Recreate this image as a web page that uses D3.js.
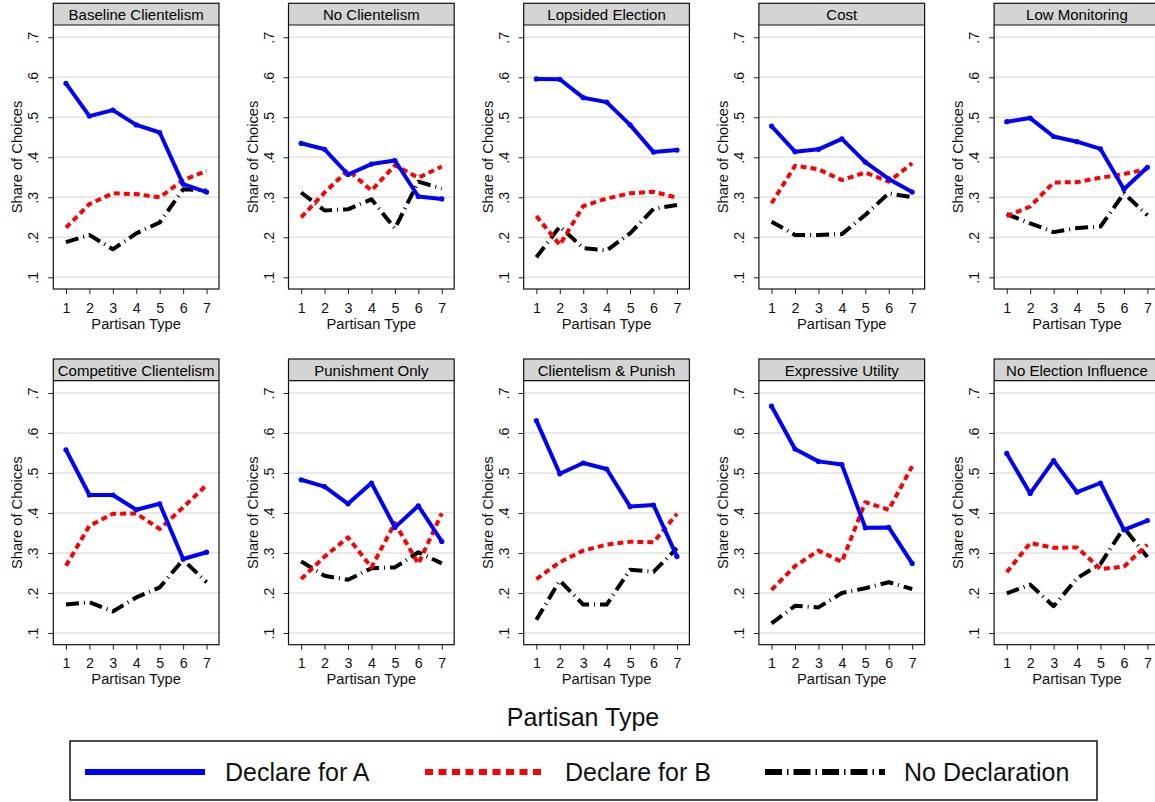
<!DOCTYPE html>
<html><head><meta charset="utf-8">
<script src="https://cdn.jsdelivr.net/npm/d3@7/dist/d3.min.js"></script>
<style>
html,body{margin:0;padding:0;background:#fff;}
svg{display:block;font-family:"Liberation Sans",Arial,Helvetica,sans-serif;}
</style></head>
<body><svg id="c" width="1155" height="802"></svg>
<script>
const panelTitles = ["Baseline Clientelism","No Clientelism","Lopsided Election","Cost","Low Monitoring",
  "Competitive Clientelism","Punishment Only","Clientelism & Punish","Expressive Utility","No Election Influence"];
const partisanTypes = [1,2,3,4,5,6,7];
const yTickValues = [0.1,0.2,0.3,0.4,0.5,0.6,0.7];
const yTickLabels = [".1",".2",".3",".4",".5",".6",".7"];
const seriesNames = ["Declare for A","Declare for B","No Declaration"];

const declareA = [
  [0.585,0.503,0.518,0.481,0.462,0.333,0.313],
  [0.435,0.420,0.357,0.383,0.392,0.302,0.296],
  [0.596,0.595,0.549,0.538,0.481,0.413,0.418],
  [0.478,0.414,0.420,0.446,0.388,0.346,0.313],
  [0.489,0.498,0.452,0.439,0.421,0.320,0.375],
  [0.558,0.445,0.445,0.408,0.423,0.285,0.302],
  [0.483,0.466,0.423,0.475,0.364,0.418,0.329],
  [0.631,0.498,0.525,0.510,0.416,0.420,0.291],
  [0.667,0.560,0.529,0.521,0.363,0.364,0.274],
  [0.549,0.449,0.531,0.452,0.475,0.358,0.381]
];
const declareB = [
  [0.224,0.283,0.310,0.308,0.300,0.343,0.366],
  [0.250,0.312,0.368,0.317,0.380,0.349,0.377],
  [0.253,0.181,0.278,0.297,0.310,0.314,0.299],
  [0.285,0.379,0.370,0.343,0.362,0.339,0.385],
  [0.253,0.277,0.337,0.338,0.349,0.358,0.371],
  [0.268,0.368,0.398,0.399,0.360,0.414,0.470],
  [0.235,0.291,0.339,0.264,0.375,0.273,0.399],
  [0.235,0.277,0.306,0.321,0.328,0.327,0.398],
  [0.208,0.267,0.306,0.278,0.427,0.408,0.517],
  [0.252,0.325,0.313,0.314,0.260,0.266,0.321]
];
const noDeclaration = [
  [0.188,0.206,0.170,0.210,0.237,0.320,0.317],
  [0.312,0.267,0.270,0.295,0.222,0.339,0.322],
  [0.150,0.227,0.173,0.167,0.210,0.271,0.281],
  [0.239,0.206,0.206,0.208,0.256,0.310,0.300],
  [0.258,0.235,0.213,0.223,0.227,0.310,0.255],
  [0.171,0.177,0.154,0.189,0.214,0.283,0.227],
  [0.279,0.243,0.233,0.262,0.264,0.302,0.274],
  [0.133,0.231,0.171,0.171,0.258,0.253,0.312],
  [0.124,0.168,0.164,0.200,0.212,0.227,0.210],
  [0.199,0.221,0.167,0.237,0.273,0.363,0.290]
];

const svg = d3.select("#c");
const FONT = '"Liberation Sans",Arial,Helvetica,sans-serif';
const series = [
  {name: seriesNames[0], data: declareA, color: "#0000ff", dash: null, width: 4},
  {name: seriesNames[1], data: declareB, color: "#ff0000", dash: "6,4", width: 4},
  {name: seriesNames[2], data: noDeclaration, color: "#000000", dash: "13,5,1,5", width: 4}
];

const panelW = 165.7, headerH = 21.7, plotH = 264;
const x = d3.scaleLinear().domain([0.46, 7.53]).range([0, panelW]);
const y = d3.scaleLinear().domain([0.0708, 0.7307]).range([plotH, 0]);

panelTitles.forEach((title, i) => {
  const col = i % 5, row = Math.floor(i / 5);
  const left = 53.3 + col * 235.2;
  const top = 3.3 + row * 355.7;
  const g = svg.append("g").attr("transform", `translate(${left},${top})`);
  g.append("rect").attr("x", 0).attr("y", 0).attr("width", panelW).attr("height", headerH)
    .attr("fill", "#d4d4d4");
  g.append("text").attr("x", panelW / 2).attr("y", 16.5).attr("text-anchor", "middle")
    .attr("font-size", 15).attr("fill", "#000").text(title);
  const p = g.append("g").attr("transform", `translate(0,${headerH})`);
  p.append("rect").attr("width", panelW).attr("height", plotH).attr("fill", "#fff");
  p.selectAll("line.grid").data(yTickValues).join("line").attr("class", "grid")
    .attr("x1", 0).attr("x2", panelW).attr("y1", d => y(d)).attr("y2", d => y(d))
    .attr("stroke", "#e2e2e2").attr("stroke-width", 1.5);
  const yAxis = d3.axisLeft(y).tickValues(yTickValues).tickSize(5).tickFormat((d, k) => yTickLabels[k]);
  const ya = p.append("g").call(yAxis);
  ya.select(".domain").remove();
  ya.selectAll(".tick line").attr("stroke", "#222").attr("stroke-width", 1);
  ya.selectAll(".tick text").attr("font-size", 14.3).attr("font-family", FONT).attr("fill", "#111")
    .attr("text-anchor", "middle").attr("x", null).attr("dy", null)
    .attr("transform", "translate(-15,0) rotate(-90)").attr("y", 0);
  const xAxis = d3.axisBottom(x).tickValues(partisanTypes).tickSize(5).tickFormat(d3.format("d"));
  const xa = p.append("g").attr("transform", `translate(0,${plotH})`).call(xAxis);
  xa.select(".domain").remove();
  xa.selectAll(".tick line").attr("stroke", "#222").attr("stroke-width", 1);
  xa.selectAll(".tick text").attr("font-size", 14.3).attr("font-family", FONT).attr("fill", "#111")
    .attr("dy", null).attr("y", 23.5);
  p.append("text").attr("x", panelW / 2).attr("y", plotH + 39.5).attr("text-anchor", "middle")
    .attr("font-size", 14.7).attr("fill", "#111").text("Partisan Type");
  p.append("text").attr("transform", `translate(-31,${plotH / 2}) rotate(-90)`)
    .attr("text-anchor", "middle").attr("font-size", 14.7).attr("fill", "#111").text("Share of Choices");
  const line = d3.line().x((d, k) => x(partisanTypes[k])).y(d => y(d));
  series.slice().reverse().forEach(s => {
    p.append("path").datum(s.data[i]).attr("d", line).attr("fill", "none")
      .attr("stroke", s.color).attr("stroke-width", s.width)
      .attr("stroke-dasharray", s.dash).attr("stroke-linejoin", "round");
  });
  p.selectAll("circle.m").data(declareA[i]).join("circle").attr("class", "m")
    .attr("cx", (d, k) => x(partisanTypes[k])).attr("cy", d => y(d)).attr("r", 2.6).attr("fill", "#0000ff");
  g.append("line").attr("x1", 0).attr("x2", panelW).attr("y1", headerH).attr("y2", headerH)
    .attr("stroke", "#111").attr("stroke-width", 1.2);
  g.append("rect").attr("x", 0).attr("y", 0).attr("width", panelW).attr("height", headerH + plotH)
    .attr("fill", "none").attr("stroke", "#111").attr("stroke-width", 1.2);
});

svg.append("text").attr("x", 583).attr("y", 726).attr("text-anchor", "middle")
  .attr("font-size", 25).attr("fill", "#111").text("Partisan Type");

const lg = svg.append("g");
lg.append("rect").attr("x", 70).attr("y", 741).attr("width", 1027).attr("height", 59)
  .attr("fill", "#fff").attr("stroke", "#111").attr("stroke-width", 1.5);
const legendX = [85, 425, 765];
const legendDash = [null, "8,5.5", "17,5,1.5,5"];
series.forEach((s, k) => {
  lg.append("line").attr("x1", legendX[k]).attr("x2", legendX[k] + 120).attr("y1", 772).attr("y2", 772)
    .attr("stroke", s.color).attr("stroke-width", 6).attr("stroke-dasharray", legendDash[k]);
  lg.append("text").attr("x", legendX[k] + 140 - (k === 2 ? 1 : 0)).attr("y", 781)
    .attr("font-size", 25).attr("fill", "#111").text(s.name);
});
</script></body></html>
